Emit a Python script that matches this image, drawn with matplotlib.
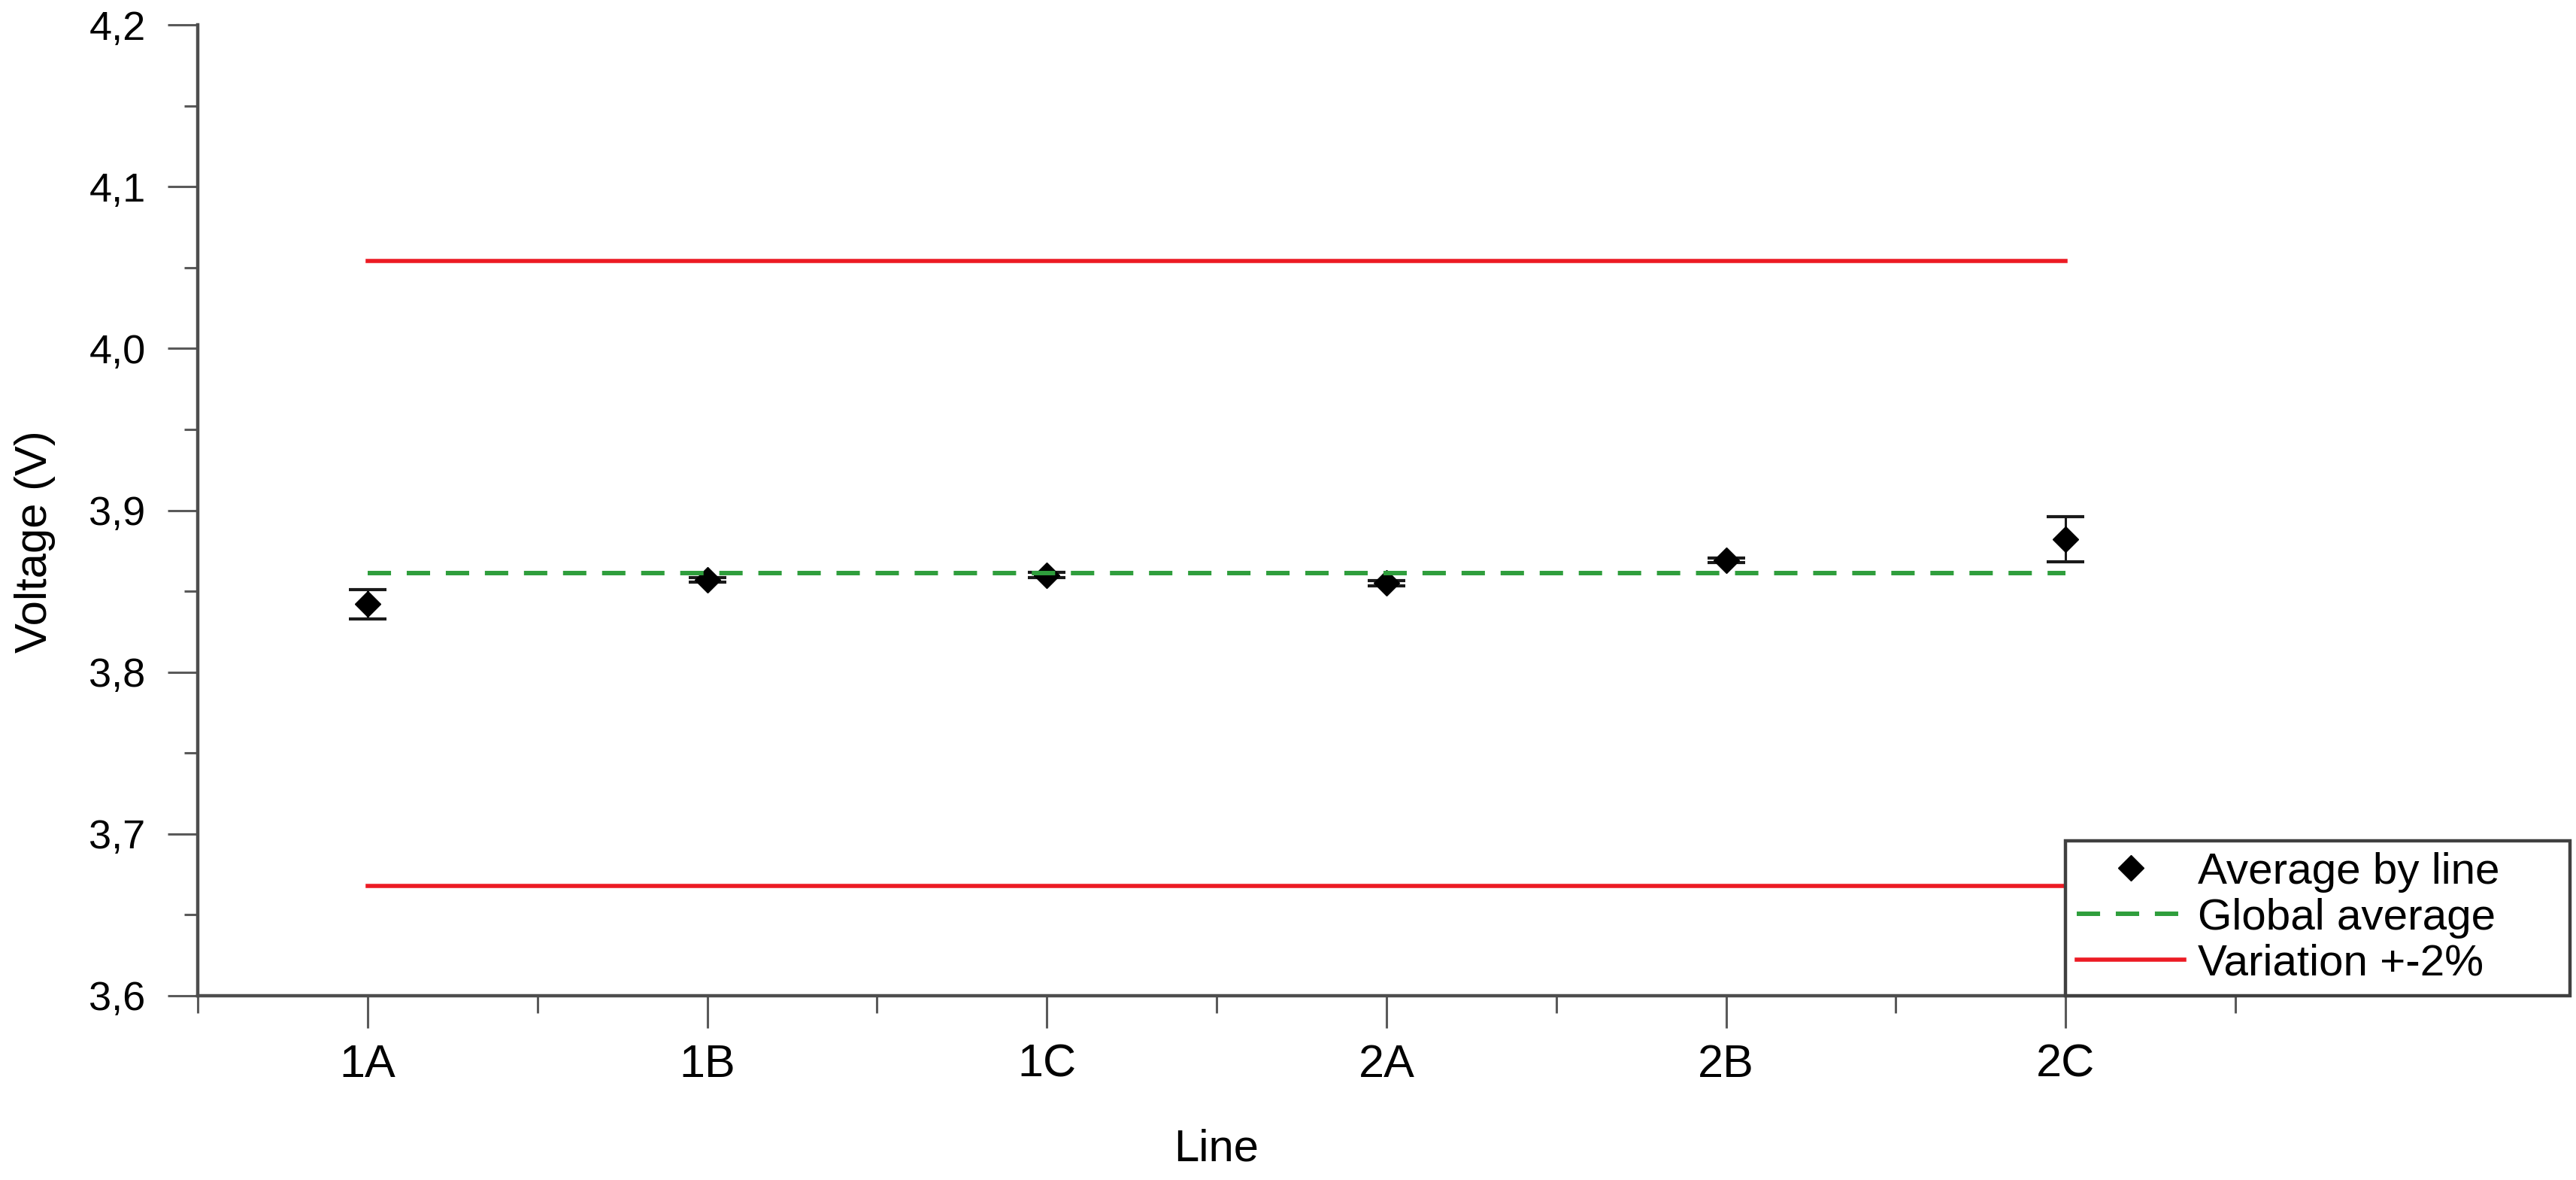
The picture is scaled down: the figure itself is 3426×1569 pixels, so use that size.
import matplotlib
matplotlib.use("Agg")
import matplotlib.pyplot as plt
from matplotlib.ticker import MultipleLocator, FixedLocator, FuncFormatter

# ---- data ----
lines = ["1A", "1B", "1C", "2A", "2B", "2C"]
avg_by_line = [3.842, 3.857, 3.860, 3.855, 3.869, 3.882]
err_by_line = [0.0090, 0.0015, 0.0015, 0.0015, 0.0015, 0.014]
global_avg = 3.861
variation_upper = 4.054
variation_lower = 3.668
y_ticks = [3.6, 3.7, 3.8, 3.9, 4.0, 4.1, 4.2]

plt.rcParams['font.family'] = ['Liberation Sans', 'DejaVu Sans']

W, H, DPI = 3426, 1569, 100
fig = plt.figure(figsize=(W / DPI, H / DPI), dpi=DPI)
ax = fig.add_axes([263 / W, 1 - 1324 / H, (2973 - 263) / W, (1324 - 33) / H])

xpos = list(range(1, len(lines) + 1))

ax.errorbar(xpos, avg_by_line, yerr=err_by_line, fmt='none', ecolor='#1a1a1a',
            elinewidth=2.2, capsize=18, capthick=3.0, zorder=2)
ax.plot(xpos, avg_by_line, linestyle='none', marker='D', markersize=17,
        color='black', label='Average by line', zorder=3)
ax.plot([xpos[0], xpos[-1]], [global_avg, global_avg], color='#2f9e3c', lw=4.3,
        dashes=(5.2, 3.5), label='Global average', zorder=4)
ax.plot([xpos[0], xpos[-1]], [variation_upper, variation_upper], color='#ec1b24',
        lw=4.0, label='Variation +-2%', zorder=4)
ax.plot([xpos[0], xpos[-1]], [variation_lower, variation_lower], color='#ec1b24',
        lw=4.0, zorder=4)

ax.set_xlim(0.5, 6.5)
ax.set_ylim(3.6, 4.2)

ax.xaxis.set_major_locator(FixedLocator(xpos))
ax.set_xticklabels(lines)
ax.xaxis.set_minor_locator(FixedLocator([p - 0.5 for p in xpos] + [xpos[-1] + 0.5]))
ax.yaxis.set_major_locator(FixedLocator(y_ticks))
ax.yaxis.set_minor_locator(MultipleLocator(0.05))
ax.yaxis.set_major_formatter(FuncFormatter(lambda v, p: f"{v:.1f}".replace('.', ',')))

for s in ['top', 'right']:
    ax.spines[s].set_visible(False)
for s in ['left', 'bottom']:
    ax.spines[s].set_color('#4d4d4d')
    ax.spines[s].set_linewidth(3.2)

ax.tick_params(axis='x', which='major', direction='out', length=31, width=2.2,
               color='#5a5a5a', labelsize=44, pad=15)
ax.tick_params(axis='x', which='minor', direction='out', length=16.5, width=2.2,
               color='#5a5a5a')
ax.tick_params(axis='y', which='major', direction='out', length=29, width=2.2,
               color='#5a5a5a', labelsize=39, pad=21)
ax.tick_params(axis='y', which='minor', direction='out', length=13, width=2.2,
               color='#5a5a5a')

ax.set_xlabel('Line', fontsize=43)
ax.xaxis.set_label_coords(0.5, (1324 - 1500) / 1291)
ax.set_ylabel('Voltage (V)', fontsize=43)
ax.yaxis.set_label_coords((74 - 263) / 2710, (1324 - 720) / 1291)

leg = ax.legend(loc='lower left',
                bbox_to_anchor=(2747 / W, 1 - 1324 / H, (3418 - 2747) / W, 0.1),
                bbox_transform=fig.transFigure, mode='expand', borderaxespad=0,
                fontsize=42, handlelength=2.45, handletextpad=0.3,
                borderpad=0.26, labelspacing=0.12, fancybox=False,
                framealpha=1, edgecolor='#404040')
leg.get_frame().set_linewidth(3.2)
leg.set_zorder(10)

fig.savefig('out.png', dpi=DPI)
